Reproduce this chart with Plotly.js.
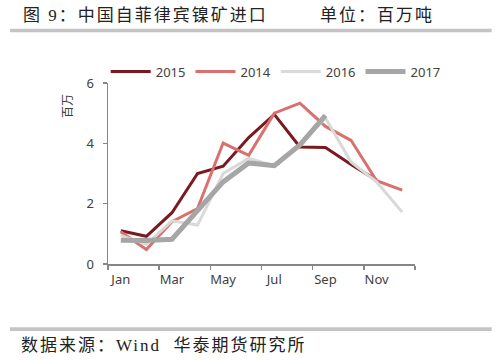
<!DOCTYPE html>
<html>
<head>
<meta charset="utf-8">
<script src="https://cdn.plot.ly/plotly-3.0.1.min.js"></script>
<style>
html,body{margin:0;padding:0;background:#fff;}
#chart{width:500px;height:362px;}
g.annotation[data-index="0"] text, g.annotation[data-index="1"] text, g.annotation[data-index="2"] text {letter-spacing:2px;}
</style>
</head>
<body>
<div id="chart"></div>
<script>
var months = ["Jan","Feb","Mar","Apr","May","Jun","Jul","Aug","Sep","Oct","Nov","Dec"];
var seriesNames = ["2015","2014","2016","2017"];
var y2015 = [1.10, 0.92, 1.70, 3.00, 3.24, 4.19, 4.96, 3.88, 3.86, 3.30, 2.78];
var y2014 = [1.07, 0.48, 1.40, 1.84, 4.01, 3.60, 5.00, 5.33, 4.56, 4.10, 2.76, 2.45];
var y2016 = [0.95, 0.65, 1.43, 1.29, 3.00, 3.50, 3.26, 3.92, 4.84, 3.38, 2.72, 1.72];
var y2017 = [0.79, 0.78, 0.82, 1.76, 2.72, 3.35, 3.26, 3.95, 4.93];
var xTickLabels = ["Jan","Mar","May","Jul","Sep","Nov"];
var titleText = "图 9：中国自菲律宾镍矿进口";
var unitText = "单位：百万吨";
var sourceText = "数据来源：Wind  华泰期货研究所";
var yTitleText = "百万";

var xIdx = months.map(function(m,i){return i+1;});
function xs(arr){return xIdx.slice(0, arr.length);}
var tickPos = xTickLabels.map(function(l){return months.indexOf(l)+1;});

var traces = [
  {x: xs(y2015), y: y2015, name: seriesNames[0], mode:"lines", line:{color:"#7a1a20", width:3}},
  {x: xs(y2014), y: y2014, name: seriesNames[1], mode:"lines", line:{color:"#d9706e", width:3}},
  {x: xs(y2016), y: y2016, name: seriesNames[2], mode:"lines", line:{color:"#d9d9d9", width:3}},
  {x: xs(y2017), y: y2017, name: seriesNames[3], mode:"lines", line:{color:"#a6a6a6", width:5}}
];

var axisFont = {family:"Noto Sans, DejaVu Sans, sans-serif", size:13, color:"#404040"};
var cjkSerif = "Liberation Serif, Noto Sans CJK SC, serif";

var layout = {
  width:500, height:362,
  margin:{l:108, r:85, t:82.5, b:98},
  paper_bgcolor:"#fff", plot_bgcolor:"#fff",
  showlegend:true,
  legend:{orientation:"h", x:1.1, xanchor:"right", y:1.063, yanchor:"middle",
          font:axisFont, itemgap:8, itemwidth:40, bgcolor:"rgba(0,0,0,0)"},
  xaxis:{range:[0.5,12.5], tickmode:"array", tickvals:tickPos, ticktext:xTickLabels,
         ticks:"", showgrid:false, zeroline:false, showline:true, linecolor:"#868686", linewidth:1.5,
         tickfont:axisFont, fixedrange:true, ticklabelstandoff:3,
         minor:{tickmode:"linear", tick0:0.5, dtick:2, ticks:"outside", ticklen:4, tickcolor:"#868686", tickwidth:1.5, showgrid:false}},
  yaxis:{range:[0,6], dtick:2, ticks:"outside", ticklen:4, tickcolor:"#868686", tickwidth:1.5,
         showgrid:false, zeroline:false, showline:true, linecolor:"#868686", linewidth:1.5,
         tickfont:axisFont, fixedrange:true, ticklabelstandoff:6},
  shapes:[
    {type:"rect", xref:"paper", yref:"paper", x0:-0.319, x1:1.25, y0:1.28, y1:1.30, fillcolor:"#c4c4c4", line:{width:0}},
    {type:"rect", xref:"paper", yref:"paper", x0:-0.319, x1:1.25, y0:-0.37, y1:-0.35, fillcolor:"#c4c4c4", line:{width:0}}
  ],
  annotations:[
    {text:titleText, xref:"paper", yref:"paper", x:-0.238, y:1.375, xanchor:"left", yanchor:"middle", showarrow:false,
     font:{family:cjkSerif, size:17, color:"#222"}},
    {text:unitText, xref:"paper", yref:"paper", x:0.703, y:1.375, xanchor:"left", yanchor:"middle", showarrow:false,
     font:{family:cjkSerif, size:17, color:"#222"}},
    {text:sourceText, xref:"paper", yref:"paper", x:-0.231, y:-0.45, xanchor:"left", yanchor:"middle", showarrow:false,
     font:{family:cjkSerif, size:17, color:"#222"}},
    {text:yTitleText, xref:"paper", yref:"paper", x:-0.135, y:0.87, xanchor:"center", yanchor:"middle", showarrow:false,
     textangle:-90, font:{family:"Noto Sans CJK SC, sans-serif", size:12, color:"#404040"}}
  ]
};

Plotly.newPlot("chart", traces, layout, {staticPlot:true, displayModeBar:false});
</script>
</body>
</html>
